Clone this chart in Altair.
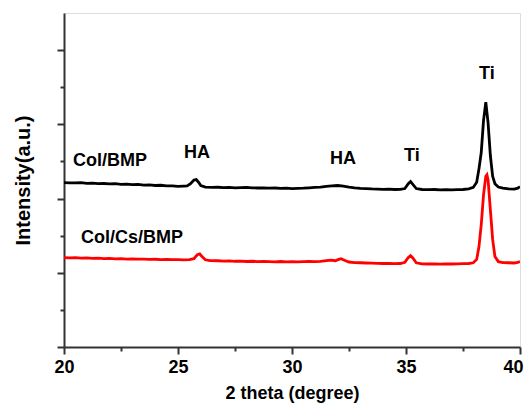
import altair as alt
import pandas as pd

# 2-theta positions and intensities (a.u.)
black_x = [20.0, 20.25, 20.5, 20.75, 21.0, 21.25, 21.5, 21.75, 22.0, 22.25, 22.5, 22.75,
           23.0, 23.25, 23.5, 23.75, 24.0, 24.25, 24.5, 24.75, 25.0, 25.25, 25.4, 25.55,
           25.7, 25.8, 25.9, 26.0, 26.2, 26.5, 26.75, 27.0, 27.25, 27.5, 27.75, 28.0,
           28.25, 28.5, 28.75, 29.0, 29.25, 29.5, 29.75, 30.0, 30.25, 30.5, 30.75, 31.0,
           31.25, 31.5, 31.75, 32.0, 32.25, 32.5, 32.75, 33.0, 33.25, 33.5, 33.75, 34.0,
           34.25, 34.5, 34.75, 34.95, 35.1, 35.2, 35.3, 35.45, 35.7, 36.0, 36.25, 36.5,
           36.75, 37.0, 37.25, 37.5, 37.75, 37.95, 38.1, 38.2, 38.3, 38.4, 38.5, 38.6,
           38.7, 38.8, 38.9, 39.05, 39.25, 39.5, 39.75, 39.9, 40.0]
black_y = [2.215, 2.212, 2.21, 2.214, 2.205, 2.208, 2.2, 2.203, 2.198, 2.2, 2.192, 2.195,
           2.188, 2.19, 2.18, 2.183, 2.176, 2.179, 2.17, 2.172, 2.165, 2.168, 2.17, 2.2,
           2.25, 2.255, 2.22, 2.175, 2.155, 2.15, 2.152, 2.148, 2.15, 2.145, 2.148, 2.15,
           2.145, 2.142, 2.145, 2.14, 2.142, 2.138, 2.14, 2.135, 2.138, 2.14, 2.145, 2.15,
           2.155, 2.163, 2.172, 2.176, 2.168, 2.155, 2.145, 2.138, 2.135, 2.13, 2.128, 2.125,
           2.127, 2.122, 2.125, 2.135, 2.2, 2.23, 2.19, 2.135, 2.122, 2.12, 2.122, 2.118,
           2.12, 2.118, 2.12, 2.122, 2.13, 2.15, 2.22, 2.4, 2.62, 3.05, 3.30, 3.02,
           2.58, 2.3, 2.2, 2.155, 2.14, 2.13, 2.128, 2.14, 2.16]

red_x = [20.0, 20.25, 20.5, 20.75, 21.0, 21.25, 21.5, 21.75, 22.0, 22.25, 22.5, 22.75,
         23.0, 23.25, 23.5, 23.75, 24.0, 24.25, 24.5, 24.75, 25.0, 25.25, 25.5, 25.7,
         25.85, 25.95, 26.05, 26.2, 26.4, 26.75, 27.0, 27.25, 27.5, 27.75, 28.0, 28.25,
         28.5, 28.75, 29.0, 29.25, 29.5, 29.75, 30.0, 30.25, 30.5, 30.75, 31.0, 31.25,
         31.5, 31.7, 31.9, 32.05, 32.15, 32.3, 32.5, 32.75, 33.0, 33.25, 33.5, 33.75,
         34.0, 34.25, 34.5, 34.75, 34.95, 35.1, 35.2, 35.3, 35.45, 35.7, 36.0, 36.25,
         36.5, 36.75, 37.0, 37.25, 37.5, 37.75, 37.95, 38.1, 38.2, 38.3, 38.4, 38.5,
         38.55, 38.6, 38.7, 38.8, 38.9, 39.05, 39.25, 39.5, 39.75, 39.9, 40.0]
red_y = [1.205, 1.2, 1.203, 1.198, 1.2, 1.195, 1.197, 1.19, 1.193, 1.188, 1.19, 1.185,
         1.187, 1.183, 1.185, 1.18, 1.182, 1.178, 1.18, 1.176, 1.178, 1.174, 1.176, 1.19,
         1.245, 1.255, 1.22, 1.175, 1.165, 1.162, 1.158, 1.16, 1.155, 1.158, 1.152, 1.155,
         1.15, 1.153, 1.15, 1.148, 1.152, 1.148, 1.15, 1.147, 1.15, 1.152, 1.15, 1.155,
         1.165, 1.17, 1.162, 1.18, 1.19, 1.168, 1.145, 1.138, 1.135, 1.132, 1.13, 1.128,
         1.125, 1.127, 1.122, 1.125, 1.14, 1.205, 1.23, 1.2, 1.135, 1.12, 1.118, 1.12,
         1.117, 1.12, 1.118, 1.12, 1.122, 1.125, 1.135, 1.18, 1.35, 1.65, 2.05, 2.3,
         2.32, 2.25, 1.85, 1.45, 1.22, 1.15, 1.138, 1.135, 1.132, 1.14, 1.15]

label_text = ["Col/BMP", "HA", "HA", "Ti", "Ti", "Col/Cs/BMP"]
label_x = [22.02, 25.83, 32.24, 35.26, 38.55, 22.98]
label_y = [2.50, 2.61, 2.53, 2.57, 3.68, 1.47]

x_major = [20, 25, 30, 35, 40]
x_minor = [22.5, 27.5, 32.5, 37.5]
y_major = [0, 1, 2, 3, 4]
y_minor = [0.5, 1.5, 2.5, 3.5]

FONT = "Liberation Sans"
AX = "#333333"

df_black = pd.DataFrame({"x": black_x, "y": black_y})
df_red = pd.DataFrame({"x": red_x, "y": red_y})
df_lab = pd.DataFrame({"x": label_x, "y": label_y, "t": label_text})

xs = alt.Scale(domain=[20, 40], nice=False, zero=False)
ys = alt.Scale(domain=[0, 4.5], nice=False, zero=False)

x_axis_major = alt.Axis(values=x_major, orient="bottom", tickSize=7, tickWidth=2, tickColor=AX,
                        domainColor=AX, domainWidth=2, labelFont=FONT, labelFontSize=18,
                        labelFontWeight="bold", labelColor="black", labelPadding=4,
                        labelAlign=alt.condition("datum.value == 40", alt.value("right"), alt.value("center")),
                        labelOffset=alt.condition("datum.value == 40", alt.value(3), alt.value(0)),
                        grid=False, title="2 theta (degree)", titleFont=FONT, titleFontSize=18,
                        titleFontWeight="bold", titleColor="black", titleY=46,
                        titleBaseline="middle", labelFlush=False)
y_axis_major = alt.Axis(values=y_major, orient="left", tickSize=7, tickWidth=2, tickColor=AX,
                        domainColor=AX, domainWidth=2, labels=False, grid=False,
                        title="Intensity(a.u.)", titleFont=FONT, titleFontSize=20,
                        titleFontWeight="bold", titleColor="black", titleX=-41, titleY=167,
                        titleAngle=-90, titleBaseline="middle", titleAlign="center")
x_axis_minor = alt.Axis(values=x_minor, orient="bottom", tickSize=4, tickWidth=2, tickColor=AX,
                        domain=False, labels=False, grid=False, title=None)
y_axis_minor = alt.Axis(values=y_minor, orient="left", tickSize=4, tickWidth=2, tickColor=AX,
                        domain=False, labels=False, grid=False, title=None)

black = alt.Chart(df_black).mark_line(color="black", strokeWidth=2.8, clip=True).encode(
    x=alt.X("x:Q", scale=xs, axis=x_axis_major),
    y=alt.Y("y:Q", scale=ys, axis=y_axis_major),
)
red = alt.Chart(df_red).mark_line(color="#ff0000", strokeWidth=2.8, clip=True).encode(
    x=alt.X("x:Q", scale=xs, axis=x_axis_minor),
    y=alt.Y("y:Q", scale=ys, axis=y_axis_minor),
)
labels = alt.Chart(df_lab).mark_text(font=FONT, fontSize=18, fontWeight="bold",
                                     color="black", baseline="middle", align="center").encode(
    x=alt.X("x:Q", scale=xs, axis=None),
    y=alt.Y("y:Q", scale=ys, axis=None),
    text="t:N",
)

chart = alt.layer(black, red, labels).resolve_axis(x="independent", y="independent").properties(
    width=456, height=334,
    autosize=alt.AutoSizeParams(type="none"),
    padding={"left": 56, "top": 5, "right": 4, "bottom": 57},
).configure_view(stroke=AX, strokeWidth=2).configure(background="white")

chart.save("out.html", embed_options={"renderer": "svg", "actions": False})
